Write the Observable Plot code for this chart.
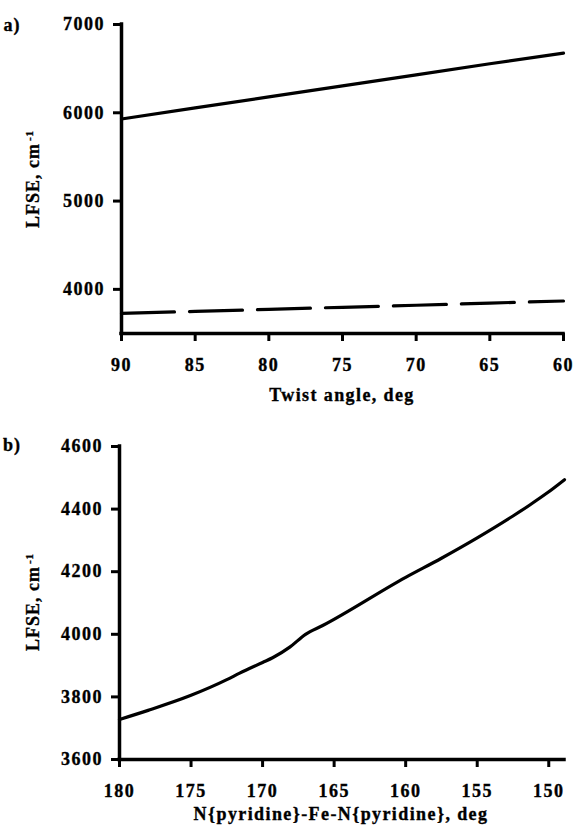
<!DOCTYPE html>
<html><head><meta charset="utf-8">
<script src="https://cdn.jsdelivr.net/npm/d3@7"></script>
<script src="https://cdn.jsdelivr.net/npm/@observablehq/plot@0.6"></script>
<style>
body{margin:0;background:#fff;}
#chart{width:576px;height:837px;}
svg{display:block;}
svg text{stroke:#000;stroke-width:0.35px;}
</style></head><body><div id="chart"></div>
<script>
// Panel a) LFSE vs twist angle
const twistAngle = [90, 85, 80, 75, 70, 65, 60];
const lfseSolidA = [5930, 6055, 6180, 6305, 6430, 6555, 6675];
const lfseDashedA = [3728, 3750, 3773, 3797, 3820, 3845, 3868];
const twistTicks = [90, 85, 80, 75, 70, 65, 60];
const lfseTicksA = [4000, 5000, 6000, 7000];

// Panel b) LFSE vs N{py}-Fe-N{py} angle
const pyAngle = [180, 178, 175, 172.5, 171.6, 170, 169.3, 168.1, 167, 165.8, 160, 157.5, 155, 152.5, 151.3, 150.1, 148.9];
const lfseB = [3728, 3757, 3805, 3855, 3876, 3910, 3925, 3959, 4000, 4028, 4182, 4243, 4308, 4378, 4414, 4452, 4494];
const pyTicks = [180, 175, 170, 165, 160, 155, 150];
const lfseTicksB = [3600, 3800, 4000, 4200, 4400, 4600];

const FONT = "'Liberation Serif','Times New Roman',serif";
const dataA1 = twistAngle.map((x, i) => ({x, y: lfseSolidA[i]}));
const dataA2 = twistAngle.map((x, i) => ({x, y: lfseDashedA[i]}));
const dataB = pyAngle.map((x, i) => ({x, y: lfseB[i]}));

const style = {fontFamily: FONT, fontSize: "18px", fontWeight: "bold", color: "#000", background: "#fff", letterSpacing: "1.5px", overflow: "visible"};

function frameMarks(xTicks, yTicks, x0, y0) {
  return [
    Plot.axisX(xTicks, {tickSize: 8, tickPadding: 17, strokeWidth: 3, label: null, tickFormat: d => String(d)}),
    Plot.axisY(yTicks, {tickSize: 8, tickPadding: 8.5, strokeWidth: 3, label: null, tickFormat: d => String(d)}),
    Plot.ruleY([y0], {strokeWidth: 3.5, strokeLinecap: "square"}),
    Plot.ruleX([x0], {strokeWidth: 3.5, strokeLinecap: "square"})
  ];
}

const A = Plot.plot({
  width: 576, height: 420,
  marginLeft: 121, marginRight: 13, marginTop: 24, marginBottom: 87,
  style,
  x: {domain: [90, 60], label: null},
  y: {domain: [3500, 7000], label: null},
  marks: [
    ...frameMarks(twistTicks, lfseTicksA, 90, 3500),
    Plot.line(dataA1, {x: "x", y: "y", stroke: "#000", strokeWidth: 3.2}),
    Plot.line(dataA2, {x: "x", y: "y", stroke: "#000", strokeWidth: 3.2, strokeDasharray: "53,15"})
  ]
});

const B = Plot.plot({
  width: 576, height: 417,
  marginLeft: 119, marginRight: 12, marginTop: 26, marginBottom: 78,
  style,
  x: {domain: [180, 148.9], label: null},
  y: {domain: [3600, 4600], label: null},
  marks: [
    ...frameMarks(pyTicks, lfseTicksB, 180, 3600),
    Plot.line(dataB, {x: "x", y: "y", stroke: "#000", strokeWidth: 3.2, curve: "monotone-x"})
  ]
});

function decorate(svg, panel, xLabel, xLabelX, xLabelY, yLabelCy) {
  const s = d3.select(svg);
  s.append("text").attr("x", 12).attr("y", 31)
    .attr("font-family", FONT).attr("font-size", 18).attr("font-weight", "bold")
    .attr("fill", "#000").style("letter-spacing", "1px").text(panel);
  s.append("text").attr("x", xLabelX).attr("y", xLabelY).attr("text-anchor", "middle")
    .attr("font-family", FONT).attr("font-size", 18).attr("font-weight", "bold")
    .attr("fill", "#000").style("letter-spacing", "1.4px").text(xLabel);
  const t = s.append("text")
    .attr("transform", `translate(38.5,${yLabelCy}) rotate(-90)`)
    .attr("text-anchor", "middle")
    .attr("font-family", FONT).attr("font-size", 18).attr("font-weight", "bold")
    .attr("fill", "#000").style("letter-spacing", "1px");
  t.append("tspan").text("LFSE, cm");
  t.append("tspan").attr("font-size", 11).attr("dy", -6).attr("dx", 2).text("-1");
}

decorate(A, "a)", "Twist angle, deg", 342, 401, 179);
decorate(B, "b)", "N{pyridine}-Fe-N{pyridine}, deg", 341, 400, 182);

document.getElementById("chart").append(A, B);
</script>
</body></html>
